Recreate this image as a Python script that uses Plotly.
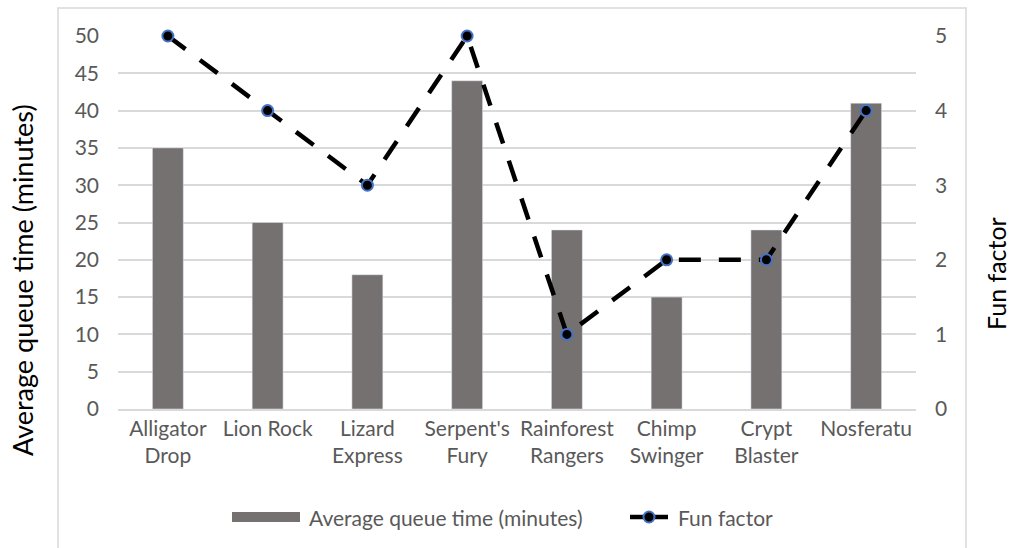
import plotly.graph_objects as go

categories = ["Alligator<br>Drop", "Lion Rock", "Lizard<br>Express", "Serpent's<br>Fury",
              "Rainforest<br>Rangers", "Chimp<br>Swinger", "Crypt<br>Blaster", "Nosferatu"]
queue_time = [35, 25, 18, 44, 24, 15, 24, 41]
fun_factor = [5, 4, 3, 5, 1, 2, 2, 4]
left_ticks = [0, 5, 10, 15, 20, 25, 30, 35, 40, 45, 50]
right_ticks = [0, 1, 2, 3, 4, 5]
bar_name = "Average queue time (minutes)"
line_name = "Fun factor"

FONT = "Lato, 'Open Sans', sans-serif"
GREY = "#595959"
BAR_COLOR = "#767171"
BLUE = "#4472C4"

# plot area in pixels (for converting custom legend positions to paper coords)
L, R, T, B = 118, 95, 36, 139
PW, PH = 1011 - L - R, 548 - T - B


def px_x(x):
    return (x - L) / PW


def px_y(y):
    return (548 - B - y) / PH


fig = go.Figure()
fig.add_trace(go.Bar(
    x=categories, y=queue_time, name=bar_name,
    marker=dict(color=BAR_COLOR), width=0.31, yaxis="y",
))
fig.add_trace(go.Scatter(
    x=categories, y=fun_factor, name=line_name, mode="lines+markers",
    line=dict(color="black", width=4.5, dash="22px,18px"),
    marker=dict(color="black", size=11, line=dict(color=BLUE, width=2)),
    yaxis="y2", cliponaxis=False,
))

shapes = [
    dict(type="rect", xref="paper", yref="paper", x0=px_x(58), x1=px_x(966),
         y0=px_y(570), y1=px_y(8), line=dict(color="#d9d9d9", width=1.5),
         fillcolor="rgba(0,0,0,0)", layer="below"),
    # legend swatch: bar
    dict(type="rect", xref="paper", yref="paper", x0=px_x(232), x1=px_x(300),
         y0=px_y(522), y1=px_y(512), line=dict(width=0), fillcolor=BAR_COLOR),
    # legend swatch: line
    dict(type="line", xref="paper", yref="paper", x0=px_x(630), x1=px_x(668),
         y0=px_y(517), y1=px_y(517), line=dict(color="black", width=4.5)),
    dict(type="circle", xref="paper", yref="paper", x0=px_x(643.5), x1=px_x(654.5),
         y0=px_y(522.5), y1=px_y(511.5), line=dict(color=BLUE, width=2),
         fillcolor="black"),
]

fig.update_layout(
    width=1011, height=548,
    margin=dict(l=L, r=R, t=T, b=B, autoexpand=False),
    paper_bgcolor="white", plot_bgcolor="white",
    font=dict(family=FONT, size=21, color=GREY),
    showlegend=False,
    xaxis=dict(showline=True, linecolor="#d9d9d9", linewidth=1.5, ticks="",
               tickfont=dict(size=21, color=GREY), automargin=False),
    yaxis=dict(range=[0, 50], tickvals=left_ticks, showgrid=True, gridcolor="#d9d9d9",
               gridwidth=1.5, zeroline=False, showline=False, ticks="",
               ticklabelstandoff=18, tickfont=dict(size=21, color=GREY), automargin=False),
    yaxis2=dict(range=[0, 5], tickvals=right_ticks, overlaying="y", side="right",
                showgrid=False, zeroline=False, showline=False, ticks="",
                ticklabelstandoff=18, tickfont=dict(size=21, color=GREY), automargin=False),
    shapes=shapes,
    annotations=[
        dict(text=bar_name, xref="paper", yref="paper",
             x=px_x(22), y=px_y(280), xanchor="center", yanchor="middle",
             textangle=-90, showarrow=False,
             font=dict(size=27, color="black", family=FONT)),
        dict(text=line_name, xref="paper", yref="paper",
             x=px_x(996), y=px_y(274), xanchor="center", yanchor="middle",
             textangle=-90, showarrow=False, borderpad=0,
             font=dict(size=25, color="black", family=FONT)),
        dict(text=bar_name, xref="paper", yref="paper",
             x=px_x(307), y=px_y(517), xanchor="left", yanchor="middle",
             showarrow=False, font=dict(size=21, color=GREY, family=FONT)),
        dict(text=line_name, xref="paper", yref="paper",
             x=px_x(676), y=px_y(517), xanchor="left", yanchor="middle",
             showarrow=False, font=dict(size=21, color=GREY, family=FONT)),
    ],
)

fig.write_html("out.html", post_script="document.body.style.margin='0';",
               config={"displayModeBar": False})
